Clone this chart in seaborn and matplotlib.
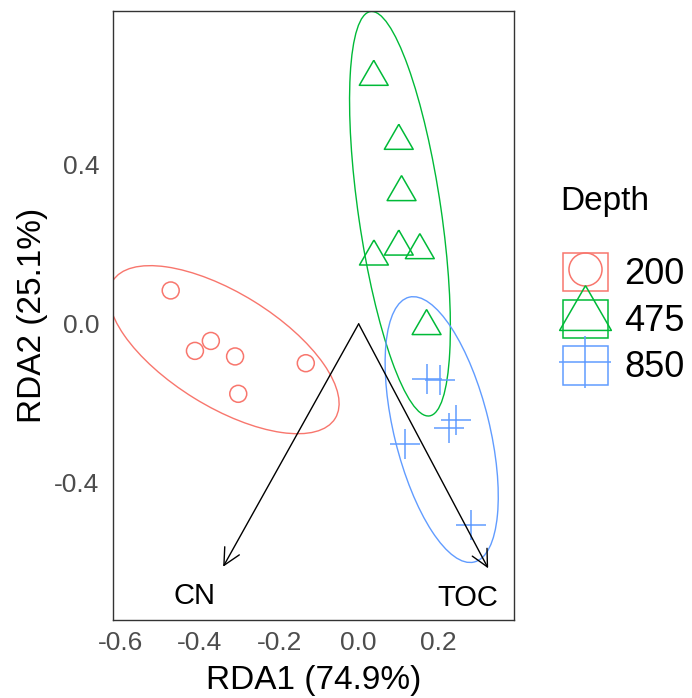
import numpy as np
import pandas as pd
import matplotlib
matplotlib.use("Agg")
import matplotlib.pyplot as plt
import seaborn as sns
from matplotlib.patches import Ellipse, Patch
from matplotlib.lines import Line2D
from matplotlib.legend_handler import HandlerTuple

# ---------------- data ----------------
depths = ["200", "475", "850"]
colors = ["#F8766D", "#00BA38", "#619CFF"]

rda1_200 = [-0.473, -0.412, -0.372, -0.311, -0.303, -0.133]
rda2_200 = [0.084, -0.068, -0.043, -0.082, -0.176, -0.099]
rda1_475 = [0.038, 0.101, 0.108, 0.0385, 0.101, 0.154, 0.171]
rda2_475 = [0.621, 0.460, 0.331, 0.169, 0.194, 0.185, -0.006]
rda1_850 = [0.171, 0.205, 0.228, 0.245, 0.116, 0.284]
rda2_850 = [-0.138, -0.141, -0.262, -0.243, -0.302, -0.507]

# 95% ellipses (centre, full axis lengths, angle in degrees)
ell_cx = [-0.339, 0.104, 0.209]
ell_cy = [-0.065, 0.277, -0.266]
ell_w = [0.658, 1.028, 0.686]
ell_h = [0.286, 0.208, 0.240]
ell_angle = [-31.7, 98.3, 103.8]

# environmental vectors
env_names = ["CN", "TOC"]
env_x = [-0.341, 0.326]
env_y = [-0.611, -0.615]
env_label_x = [-0.412, 0.276]
env_label_y = [-0.684, -0.690]

xticks = [-0.6, -0.4, -0.2, 0.0, 0.2]
xtick_labels = ["-0.6", "-0.4", "-0.2", "0.0", "0.2"]
yticks = [-0.4, 0.0, 0.4]
ytick_labels = ["-0.4", "0.0", "0.4"]

df = pd.DataFrame({
    "RDA1": rda1_200 + rda1_475 + rda1_850,
    "RDA2": rda2_200 + rda2_475 + rda2_850,
    "Depth": ["200"] * len(rda1_200) + ["475"] * len(rda1_475) + ["850"] * len(rda1_850),
})

# ---------------- style ----------------
sns.set_theme(style="white")
plt.rcParams["font.family"] = ["Liberation Sans", "DejaVu Sans"]

DPI = 100
fig = plt.figure(figsize=(6.92, 6.98), dpi=DPI)
W, H = 692, 698
ax = fig.add_axes([112.7 / W, 1 - 620 / H, 401.3 / W, 609 / H])

tri = [(0, 1), (-0.866, -0.5), (0.866, -0.5), (0, 1)]
markers = {"200": "o", "475": tri, "850": "+"}
sizes = {"200": 12.2 ** 2, "475": 24.0 ** 2, "850": 21.6 ** 2}

# ellipses
for cx, cy, w, h, a, c in zip(ell_cx, ell_cy, ell_w, ell_h, ell_angle, colors):
    e = Ellipse((cx, cy), w, h, angle=a, facecolor="none", edgecolor=c, lw=1.0)
    ax.add_patch(e)

# points
for d, c in zip(depths, colors):
    sub = df[df["Depth"] == d]
    sns.scatterplot(data=sub, x="RDA1", y="RDA2", marker=markers[d], s=sizes[d],
                    color=c, legend=False, ax=ax, zorder=3)
    coll = ax.collections[-1]
    coll.set_facecolor("none")
    coll.set_edgecolor(c)
    coll.set_linewidth(1.1)

# arrows
for name, x, y, lx, ly in zip(env_names, env_x, env_y, env_label_x, env_label_y):
    ax.annotate("", xy=(x, y), xytext=(0, 0),
                arrowprops=dict(arrowstyle="->,head_length=1.2,head_width=0.6",
                                color="black", lw=1.0, shrinkA=0, shrinkB=0,
                                mutation_scale=10), zorder=4)
    ax.text(lx, ly, name, ha="center", va="center", fontsize=21, color="black")

ax.set_xlim(-0.619, 0.391)
ax.set_ylim(-0.745, 0.787)
ax.set_xticks(xticks)
ax.set_xticklabels(xtick_labels)
ax.set_yticks(yticks)
ax.set_yticklabels(ytick_labels)
ax.tick_params(axis="both", which="major", direction="out", length=3.6, width=1.0,
               color="#333333", labelcolor="#4D4D4D", labelsize=19)
ax.tick_params(axis="x", pad=4)
ax.tick_params(axis="y", pad=6)
for sp in ax.spines.values():
    sp.set_visible(True)
    sp.set_color("#333333")
    sp.set_linewidth(1.0)
ax.grid(False)

ax.set_xlabel("RDA1 (74.9%)", fontsize=24, color="black")
ax.set_ylabel("RDA2 (25.1%)", fontsize=24, color="black")
ax.xaxis.set_label_coords(0.5, -0.074)
ax.yaxis.set_label_coords(-0.16, 0.5)

# legend
fs_leg = 26
handles = []
for d, c in zip(depths, colors):
    box = Patch(facecolor="none", edgecolor=c, lw=1.1)
    ms = {"200": 23.8, "475": 43.0, "850": 37.4}[d]
    mk = Line2D([], [], linestyle="none", marker=markers[d], markersize=ms,
                markerfacecolor="none", markeredgecolor=c, markeredgewidth=1.1)
    handles.append((box, mk))

leg = fig.legend(handles, depths, handler_map={tuple: HandlerTuple(ndivide=1, pad=0)},
                 loc="upper left", bbox_to_anchor=(562.7 / W, 1 - 253 / H),
                 frameon=False, fontsize=fs_leg, handlelength=1.26, handleheight=1.26,
                 labelspacing=0.2, handletextpad=0.45, borderpad=0, borderaxespad=0,
                 labelcolor="black")
fig.text(560 / W, 1 - 210 / H, "Depth", fontsize=24, ha="left", va="baseline", color="black")

fig.savefig("out.png", dpi=DPI)
